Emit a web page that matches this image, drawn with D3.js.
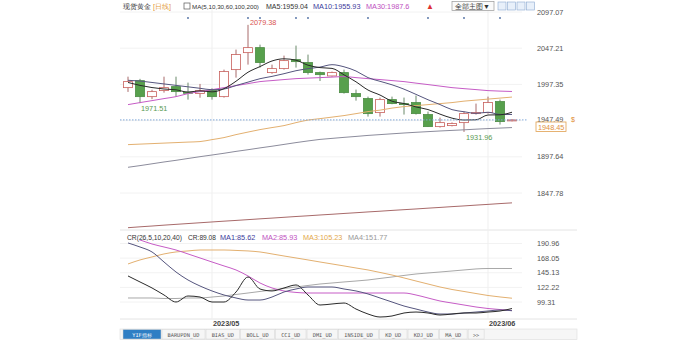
<!DOCTYPE html>
<html>
<head>
<meta charset="utf-8">
<script src="https://cdn.jsdelivr.net/npm/d3@7/dist/d3.min.js"></script>
<style>
  body { margin: 0; background: #fff; }
  svg { display: block; }
  text { font-family: "Liberation Sans", Arial, sans-serif; }
</style>
</head>
<body>
<svg width="700" height="340"></svg>
<script>
// trading days shown on the chart
var dates = ["04/20","04/21","04/24","04/25","04/26","04/27","04/28",
  "05/01","05/02","05/03","05/04","05/05","05/08","05/09","05/10","05/11","05/12",
  "05/15","05/16","05/17","05/18","05/19","05/22","05/23","05/24","05/25","05/26",
  "05/29","05/30","05/31","06/01","06/02","06/05"];

var opens  = [1992.9,2002.5,1980.5,1988.8,1994.3,1986.5,1984.7,1988.8,1980.5,2017.7,2041.1,2048.0,2013.6,2019.1,2031.5,2027.4,2013.6,2009.0,2013.6,1984.7,1977.8,1958.5,1976.4,1970.9,1972.3,1955.8,1939.2,1940.6,1944.7,1957.1,1958.5,1973.7,1947.5];
var highs  = [2008.0,2005.0,1990.0,2008.0,2008.0,1999.8,1998.0,1992.0,2017.7,2045.3,2079.38,2052.1,2024.6,2037.0,2050.8,2038.4,2015.0,2015.0,2017.7,1990.2,1980.5,1979.2,1980.5,1979.2,1981.9,1959.9,1951.6,1945.0,1959.9,1970.9,1980.5,1976.4,1949.5];
var lows   = [1987.0,1971.51,1977.0,1986.0,1980.5,1976.4,1979.0,1976.4,1979.2,2006.7,2024.6,2020.5,2012.0,2017.7,2020.5,2010.8,2002.0,2008.0,1984.7,1975.0,1953.0,1953.0,1970.0,1955.8,1955.8,1939.0,1937.9,1939.5,1931.96,1955.8,1957.1,1942.0,1946.5];
var closes = [2001.2,1980.5,1987.4,1992.9,1987.4,1986.0,1988.8,1980.5,2015.0,2038.4,2048.0,2027.4,2019.1,2030.1,2028.7,2013.6,2010.8,2013.6,1986.0,1980.5,1957.1,1976.4,1970.9,1970.0,1957.1,1939.2,1944.7,1943.4,1957.1,1958.5,1972.3,1946.1,1948.45];

var ma5   = [2000.0,1996.0,1993.0,1991.0,1989.9,1986.8,1988.5,1987.1,1991.5,2001.7,2014.1,2021.9,2029.6,2032.6,2030.7,2023.8,2020.5,2019.4,2010.5,2000.9,1989.6,1982.7,1974.2,1971.0,1966.3,1962.7,1956.4,1950.9,1948.3,1948.6,1955.2,1955.5,1959.04];
var ma10  = [2003.0,2002.0,2000.0,1998.0,1996.0,1994.0,1992.0,1990.0,1991.0,1995.8,2000.5,2005.2,2008.4,2012.1,2016.2,2019.0,2021.2,2024.5,2021.6,2015.8,2006.7,2001.6,1996.8,1990.8,1983.6,1976.2,1969.6,1962.6,1959.7,1957.5,1959.0,1956.0,1955.93];
var ma30  = [1969.5,1972.3,1975.0,1977.8,1980.5,1984.7,1987.4,1990.2,1992.9,1995.7,1998.4,2001.2,2002.6,2004.0,2005.3,2006.0,2006.7,2007.4,2008.1,2006.7,2005.3,2004.0,2002.6,2001.2,1999.1,1997.1,1995.0,1992.9,1991.5,1990.2,1988.8,1988.1,1987.6];
var ma60  = [1914.4,1915.1,1915.8,1916.5,1917.2,1917.9,1918.6,1921.3,1924.1,1928.2,1931.7,1935.1,1937.9,1940.6,1944.7,1948.2,1950.2,1952.3,1954.4,1957.1,1959.9,1961.9,1964.7,1966.8,1968.1,1969.5,1970.9,1972.3,1974.3,1975.7,1977.1,1978.5,1979.9];
var ma100 = [1883.2,1885.5,1888.0,1890.5,1892.8,1895.3,1897.8,1900.1,1902.5,1905.1,1907.4,1909.9,1912.2,1914.7,1917.2,1919.5,1921.6,1923.0,1924.4,1925.7,1927.1,1928.2,1929.3,1930.4,1931.4,1932.3,1933.2,1934.0,1934.8,1935.7,1936.5,1937.2,1937.9];
var ma200 = [1800.0,1801.2,1802.3,1803.5,1804.6,1805.7,1806.8,1807.9,1809.0,1810.0,1811.1,1812.2,1813.2,1814.3,1815.4,1816.4,1817.5,1818.5,1819.6,1820.6,1821.7,1822.7,1823.8,1824.8,1825.8,1826.9,1827.9,1829.0,1830.0,1831.1,1832.1,1833.2,1834.2];

// CR indicator panel
var cr    = [140.1,130.7,121.3,110.3,99.3,108.7,107.1,99.3,99.3,115.0,138.5,119.7,116.6,121.3,126.0,110.3,94.6,96.2,97.7,88.3,80.5,75.8,77.4,82.1,83.6,82.1,78.9,80.5,82.1,82.1,83.6,85.2,89.08];
var crMa1 = [191.8,185.5,177.7,162.0,146.3,133.8,124.4,116.6,110.3,105.6,102.4,102.4,107.1,115.0,119.7,122.8,122.8,122.8,119.7,116.6,111.9,105.6,99.3,93.0,88.3,83.6,80.5,80.5,82.1,83.6,85.2,86.8,85.62];
var crMa2 = [202.8,196.5,190.2,185.5,180.8,174.6,168.3,162.0,155.8,149.5,140.1,129.1,121.3,116.6,114.3,113.4,113.4,113.4,113.4,113.4,113.4,113.4,113.4,113.4,110.3,105.6,100.9,97.7,94.6,91.5,89.1,87.5,85.93];
var crMa3 = [158.9,165.2,169.9,174.6,177.7,179.3,180.8,180.8,180.8,180.1,179.3,177.7,174.6,171.4,168.3,165.2,162.0,158.9,155.8,152.6,149.5,145.6,141.6,137.0,132.2,127.5,122.8,118.9,115.8,112.6,109.5,107.2,105.23];
var crMa4 = [105.6,105.6,105.6,104.8,104.8,105.6,105.6,107.1,108.7,111.1,113.4,115.8,118.1,120.5,122.8,125.2,127.5,129.1,130.7,132.2,133.8,136.2,138.5,140.9,143.2,144.8,146.3,147.9,149.5,151.1,151.8,151.8,151.77];

var mainTicks = [2097.07, 2047.21, 1997.35, 1947.49, 1897.64, 1847.78];
var lowTicks  = [190.96, 168.05, 145.13, 122.22, 99.31];
var monthTicks = [{d: "05/01", label: "2023/05"}, {d: "06/01", label: "2023/06"}];
var eventDays = ["04/27","05/04","05/05","05/10","05/11","05/18","05/25","05/30","06/02"];
var lastPrice = 1948.45;
var tabs = ["YIF指标","BARUPDN_UD","BIAS_UD","BOLL_UD","CCI_UD","DMI_UD","INSIDE_UD","KD_UD","KDJ_UD","MA_UD",">>"];

var svg = d3.select("svg");
var left = 120, right = 522, axisRight = 577;

var x = d3.scalePoint().domain(dates).range([128, 512]);
var y = d3.scaleLinear().domain([1847.78, 2097.07]).range([193, 12]);
var y2 = d3.scaleLinear().domain([99.31, 190.96]).range([302, 243.5]);

var upColor = "#c8605c", downColor = "#57a04c";

// clip areas
var defs = svg.append("defs");
defs.append("clipPath").attr("id", "clipMain").append("rect")
  .attr("x", left).attr("y", 8).attr("width", right - left).attr("height", 221);
defs.append("clipPath").attr("id", "clipLow").append("rect")
  .attr("x", left).attr("y", 240).attr("width", right - left).attr("height", 78);

// frame lines
svg.append("line").attr("x1", left).attr("x2", axisRight).attr("y1", 230).attr("y2", 230).style("stroke", "#e4e4e4");
svg.append("line").attr("x1", left).attr("x2", axisRight).attr("y1", 319).attr("y2", 319).style("stroke", "#e4e4e4");

// grid
var grid = svg.append("g");
grid.selectAll(".hg").data(mainTicks).enter().append("line")
  .attr("x1", left).attr("x2", right).attr("y1", d => y(d)).attr("y2", d => y(d))
  .style("stroke", "#f2f2f2");
grid.selectAll(".hg2").data(lowTicks).enter().append("line")
  .attr("x1", left).attr("x2", right).attr("y1", d => y2(d)).attr("y2", d => y2(d))
  .style("stroke", "#f2f2f2");
grid.selectAll(".vg").data(monthTicks).enter().append("line")
  .attr("x1", d => x(d.d)).attr("x2", d => x(d.d)).attr("y1", 8).attr("y2", 319)
  .style("stroke", "#efefef");

// axis labels
svg.append("g").selectAll("text").data(mainTicks).enter().append("text")
  .attr("x", 537).attr("y", d => y(d) + (d === 1947.49 ? 1 : 2.5))
  .style("font-size", "7.3px").style("fill", "#555")
  .text(d => d.toFixed(2));
svg.append("g").selectAll("text").data(lowTicks).enter().append("text")
  .attr("x", 537).attr("y", d => y2(d) + 2.5)
  .style("font-size", "7.3px").style("fill", "#555")
  .text(d => d.toFixed(2));
svg.append("g").selectAll("text").data(monthTicks).enter().append("text")
  .attr("x", d => x(d.d) + 1).attr("y", 326)
  .style("font-size", "7.3px").style("fill", "#444").style("font-weight", "bold")
  .text(d => d.label);

// moving averages (main)
var main = svg.append("g").attr("clip-path", "url(#clipMain)");
var mainLines = [
  {v: ma200, c: "#a86a6a"}, {v: ma100, c: "#8c8c9c"}, {v: ma60, c: "#e3b070"},
  {v: ma30, c: "#c65cc6"}, {v: ma10, c: "#55557e"}, {v: ma5, c: "#2a2a2a"}
];
var line = d3.line().x((d, i) => x(dates[i])).y(d => y(d)).curve(d3.curveMonotoneX);

// candles
var candles = dates.map((d, i) => ({d: d, o: opens[i], h: highs[i], l: lows[i], c: closes[i]}));
var cg = main.append("g").selectAll("g").data(candles).enter().append("g");
cg.append("line")
  .attr("x1", d => x(d.d)).attr("x2", d => x(d.d))
  .attr("y1", d => y(d.h)).attr("y2", d => y(d.l))
  .style("stroke", d => d.c >= d.o ? "#a86a6a" : "#6a8a6a").style("stroke-width", 1);
cg.append("rect")
  .attr("x", d => x(d.d) - 4.5).attr("width", 9)
  .attr("y", d => y(Math.max(d.o, d.c)))
  .attr("height", d => Math.max(1, Math.abs(y(d.o) - y(d.c))))
  .style("fill", d => d.c >= d.o ? "#fff" : downColor)
  .style("stroke", d => d.c >= d.o ? upColor : "#4c8c44")
  .style("stroke-width", 0.8);

main.selectAll(".ma").data(mainLines).enter().append("path")
  .attr("d", d => line(d.v)).style("fill", "none")
  .style("stroke", d => d.c).style("stroke-width", 1);

// current price line
svg.append("line").attr("x1", left).attr("x2", 528)
  .attr("y1", y(lastPrice)).attr("y2", y(lastPrice))
  .style("stroke", "#7fa7d8").style("stroke-dasharray", "1.5,1.5");
svg.append("rect").attr("x", 536).attr("y", 122).attr("width", 30).attr("height", 9.5)
  .style("fill", "#fff").style("stroke", "#e0a050").style("stroke-width", 0.8);
svg.append("text").attr("x", 538).attr("y", 129.5).style("font-size", "7.3px").style("fill", "#e09040")
  .text(lastPrice.toFixed(2));
svg.append("text").attr("x", 571).attr("y", y(lastPrice) + 2.5).style("font-size", "7px").style("fill", "#e08a30")
  .text("$");

// high / low annotations
var hiIdx = highs.indexOf(d3.max(highs));
svg.append("text").attr("x", x(dates[hiIdx]) + 2).attr("y", 25)
  .style("font-size", "7.3px").style("fill", "#d9534f").text(highs[hiIdx].toFixed(2));
svg.append("text").attr("x", x(dates[1]) + 1).attr("y", 110.5)
  .style("font-size", "7.3px").style("fill", "#5a9a52").text(lows[1].toFixed(2));
var loIdx = lows.indexOf(d3.min(lows));
svg.append("text").attr("x", x(dates[loIdx]) + 2).attr("y", 139.5)
  .style("font-size", "7.3px").style("fill", "#5a9a52").text(lows[loIdx].toFixed(2));

// event markers
svg.append("g").selectAll("circle").data(eventDays).enter().append("circle")
  .attr("cx", d => x(d)).attr("cy", 18).attr("r", 0.9).style("fill", "#4a6aa0");

// lower panel
var low = svg.append("g").attr("clip-path", "url(#clipLow)");
var line2 = d3.line().x((d, i) => x(dates[i])).y(d => y2(d)).curve(d3.curveMonotoneX);
var lowLines = [
  {v: crMa4, c: "#a8a8a8"}, {v: crMa3, c: "#e3b070"}, {v: crMa2, c: "#c65cc6"},
  {v: crMa1, c: "#55557e"}, {v: cr, c: "#2a2a2a"}
];
low.selectAll("path").data(lowLines).enter().append("path")
  .attr("d", d => line2(d.v)).style("fill", "none")
  .style("stroke", d => d.c).style("stroke-width", 1);

// legends: shrink the font of each piece until it fits the width it has in the reference
function legend(g, yy, items) {
  g.selectAll("text.l").data(items).enter().append("text")
    .attr("x", d => d.x).attr("y", yy)
    .style("font-size", "7.3px").style("fill", d => d.c)
    .text(d => d.t)
    .each(function(d) {
      var w = this.getComputedTextLength();
      if (w > d.w) d3.select(this).style("font-size", (7.3 * d.w / w).toFixed(2) + "px");
    });
}
var lg = svg.append("g");
legend(lg, 9, [
  {x: 123, w: 27, t: "现货黄金", c: "#333"},
  {x: 153, w: 23, t: "[日线]", c: "#e39a3a"},
  {x: 192, w: 67, t: "MA(5,10,30,60,100,200)", c: "#333"},
  {x: 266, w: 42, t: "MA5:" + ma5[32].toFixed(2), c: "#333"},
  {x: 313, w: 48, t: "MA10:" + ma10[32].toFixed(2), c: "#3c3c9c"},
  {x: 366, w: 44, t: "MA30:" + ma30[32].toFixed(1), c: "#c050c0"}
]);
lg.append("rect").attr("x", 184).attr("y", 3).attr("width", 6).attr("height", 6)
  .style("fill", "#fff").style("stroke", "#555").style("stroke-width", 0.7);
lg.append("text").attr("x", 426).attr("y", 9).style("font-size", "8px").style("fill", "#d33").text("▲");

// top-right buttons
svg.append("rect").attr("x", 452).attr("y", 1.5).attr("width", 42).attr("height", 9)
  .style("fill", "#fafafa").style("stroke", "#999").style("stroke-width", 0.7);
svg.append("text").attr("x", 455).attr("y", 9).style("font-size", "7px").style("fill", "#333").text("全部主图▼");
svg.append("g").selectAll("rect").data([0, 1, 2, 3]).enter().append("rect")
  .attr("x", d => 498 + d * 9.5).attr("y", 2).attr("width", 8).attr("height", 8)
  .style("fill", "#e8f0fa").style("stroke", "#8aa8d0").style("stroke-width", 0.6);

var lg2 = svg.append("g");
legend(lg2, 240, [
  {x: 127, w: 55, t: "CR(26,5,10,20,40)", c: "#333"},
  {x: 188, w: 28, t: "CR:" + cr[32].toFixed(2), c: "#333"},
  {x: 220, w: 37, t: "MA1:" + crMa1[32].toFixed(2), c: "#3c3c9c"},
  {x: 262, w: 36, t: "MA2:" + crMa2[32].toFixed(2), c: "#c050c0"},
  {x: 303, w: 40, t: "MA3:" + crMa3[32].toFixed(2), c: "#e3a84a"},
  {x: 348, w: 41, t: "MA4:" + crMa4[32].toFixed(2), c: "#999"}
]);

// tab bar
var tabBar = svg.append("g");
tabBar.append("rect").attr("x", 120).attr("y", 329).attr("width", 457).attr("height", 10.5)
  .style("fill", "#f6f6f6").style("stroke", "#ddd").style("stroke-width", 0.6);
var tx = 123;
tabs.forEach(function(t, i) {
  var w = t === ">>" ? 16 : Math.max(26, t.length * 3.1 + 12);
  if (i === 0) w = 38;
  tabBar.append("rect").attr("x", tx).attr("y", 329.5).attr("width", w).attr("height", 9.5)
    .style("fill", i === 0 ? "#2f7ec4" : "#f6f6f6").style("stroke", "#d4d4d4").style("stroke-width", 0.5);
  tabBar.append("text").attr("x", tx + w / 2).attr("y", 337).attr("text-anchor", "middle")
    .style("font-family", "'DejaVu Sans Mono', monospace")
    .style("font-size", "5.3px").style("fill", i === 0 ? "#fff" : "#555").text(t);
  tx += w + 1;
});
</script>
</body>
</html>
